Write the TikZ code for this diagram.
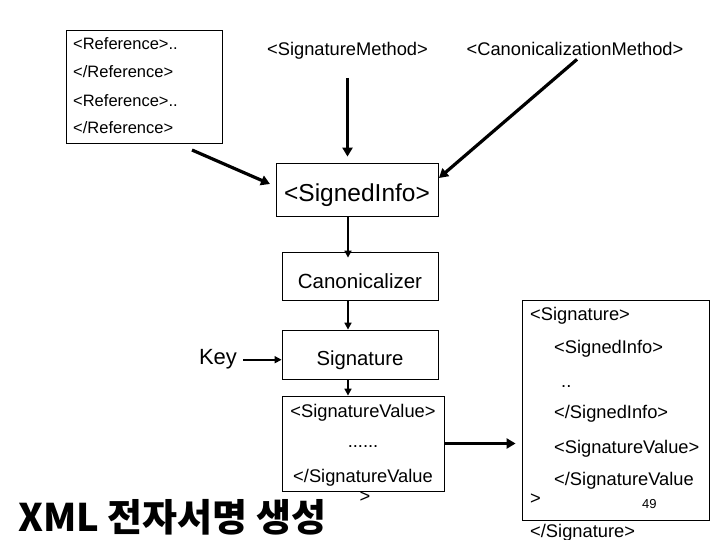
\documentclass[tikz,border=0pt]{standalone}
\usepackage{fontspec}
\setmainfont{Liberation Sans}
\newfontfamily\krfont{Noto Sans CJK KR}
\usetikzlibrary{arrows.meta}
\begin{document}
\begin{tikzpicture}[x=1pt,y=-1pt,
  box/.style={draw,line width=0.8pt,inner sep=0pt,text depth=0pt},
  txt/.style={inner sep=0pt,anchor=base west},
  ctxt/.style={inner sep=0pt,anchor=base},
  bigarr/.style={line width=3.2pt,-{Triangle[length=9pt,width=10pt]}},
  smallarr/.style={line width=1.6pt,-{Triangle[length=7pt,width=7pt]}},
  fa/.style={font=\fontsize{16.5}{18}\selectfont},
  fb/.style={font=\fontsize{18.3}{20}\selectfont},
]
\useasboundingbox (0,0) rectangle (720,540);
% Reference box
\node[box,minimum width=156pt,minimum height=113pt] (ref) at (144,86.5) {};
\node[txt,fa] (r1) at (73,50) {<Reference>..};
\node[txt,fa] (r2) at (73,78) {</Reference>};
\node[txt,fa] (r3) at (73,107) {<Reference>..};
\node[txt,fa] (r4) at (73,134) {</Reference>};
% top labels
\node[ctxt,fb] (sm) at (347.5,56) {<SignatureMethod>};
\node[ctxt,fb] (cm) at (575,56) {<CanonicalizationMethod>};
% chain
\node[box,text height=25pt,minimum width=162pt,minimum height=53pt,font=\fontsize{24.5}{26}\selectfont] (si) at (357,189.5) {<SignedInfo>};
\node[box,text height=24pt,minimum width=156pt,minimum height=48pt,font=\fontsize{20.5}{22}\selectfont] (can) at (360,276) {Canonicalizer};
\node[box,text height=21pt,minimum width=156pt,minimum height=49pt,font=\fontsize{20.3}{22}\selectfont] (sig) at (360,354.5) {Signature};
\node[ctxt,font=\fontsize{22}{24}\selectfont] (key) at (218,364) {Key};
\node[box,minimum width=162pt,minimum height=95pt] (sv) at (363,443.5) {};
\node[ctxt,fb] (sv1) at (363,417) {<SignatureValue>};
\node[ctxt,fb] (sv2) at (363,447) {......};
\node[ctxt,fb] (sv3) at (363,482) {</SignatureValue};
\node[ctxt,fb] (sv4) at (365,502) {>};
% right box
\node[box,minimum width=187pt,minimum height=220pt] (rb) at (615.5,410) {};
\node[txt,fb] (q1) at (530,320) {<Signature>};
\node[txt,fb] (q2) at (554,353) {<SignedInfo>};
\node[txt,fb] (q3) at (561,387) {..};
\node[txt,fb] (q4) at (554,418) {</SignedInfo>};
\node[txt,fb] (q5) at (554,453) {<SignatureValue>};
\node[txt,fb] (q6) at (554,485) {</SignatureValue};
\node[txt,fb] (q7) at (530,504) {>};
\node[txt,font=\fontsize{13}{14}\selectfont] (q8) at (642,508) {49};
\node[txt,fb] (q9) at (530,537) {</Signature>};
% title
\node[anchor=west,inner sep=0pt,font=\krfont\bfseries\fontsize{38}{40}\selectfont] (title) at (18,517) {XML 전자서명 생성};
% connectors
\coordinate (ax) at (348,0);
\coordinate (refstart) at (192,150);
\coordinate (refend) at (270,184);
\coordinate (cmend) at (439,178);
\draw[bigarr] (refstart) -- (refend);
\draw[bigarr,shorten <=18pt,shorten >=6pt] (sm.south) -- (si.north -| sm.south);
\draw[bigarr] (cm.south) ++(2,3) -- (cmend);
\draw[smallarr] (si.south -| ax) -- ([yshift=-6pt]can.north -| ax);
\draw[smallarr] (can.south -| ax) -- (sig.north -| ax);
\draw[smallarr] (sig.south -| ax) -- (sv.north -| ax);
\draw[smallarr,shorten <=6pt] ([yshift=-1pt]key.east) -- ([yshift=-1pt]key.east -| sig.west);
\draw[bigarr,shorten >=6pt] (sv.east) -- (sv.east -| rb.west);
\end{tikzpicture}
\end{document}
